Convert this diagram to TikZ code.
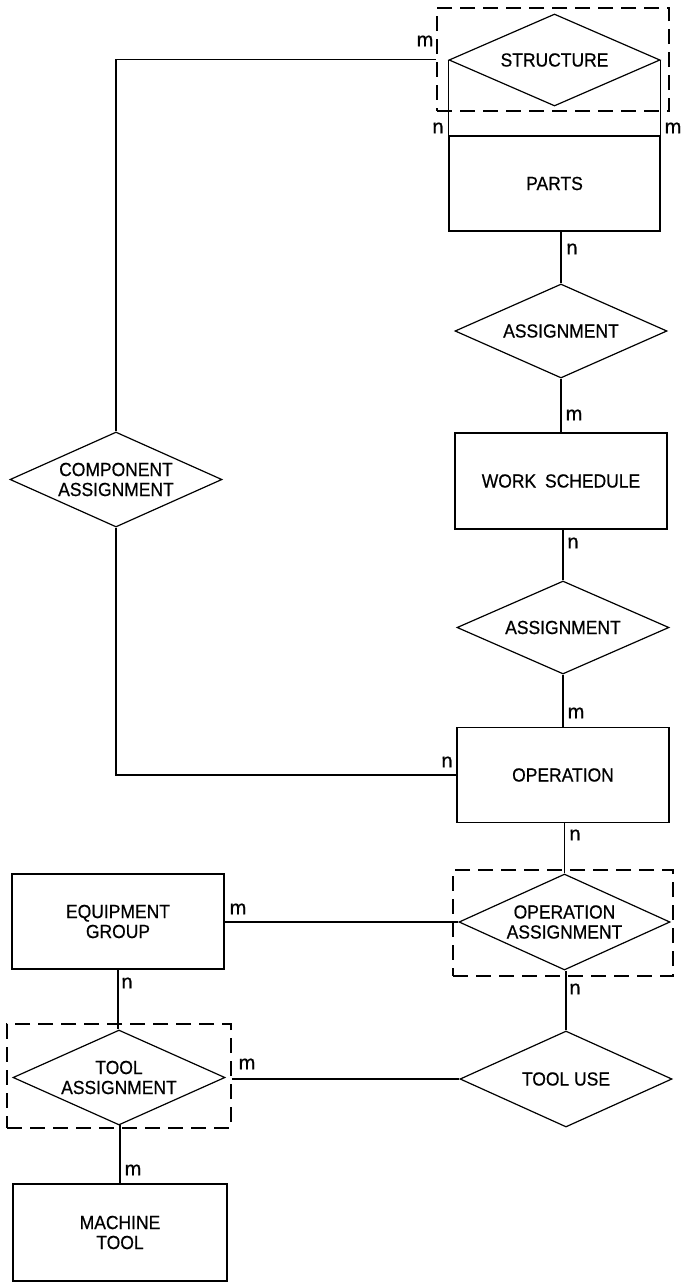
\documentclass[tikz,border=0pt]{standalone}
\usepackage{fontspec}
\setmainfont{Liberation Sans}
\newfontfamily\narrowsans[FakeStretch=0.92,FakeBold=0.6]{Liberation Sans}
\newfontfamily\cardsans[FakeBold=0.8]{Liberation Sans}
\usetikzlibrary{shapes.geometric}
\begin{document}
\begin{tikzpicture}[x=1pt,y=-1pt,
  line width=1.2pt,
  every node/.style={font=\narrowsans\fontsize{19}{20}\selectfont},
  entity/.style={draw,rectangle,inner sep=0pt,align=center},
  relation/.style={draw,diamond,inner sep=0pt},
  dashbox/.style={draw,rectangle,inner sep=0pt,dash pattern=on 15pt off 8pt},
  card/.style={font=\cardsans\fontsize{20}{22}\selectfont,inner sep=0pt}]
\useasboundingbox (0,0) rectangle (682,1282);

% entities
\node[entity,minimum width=211pt,minimum height=95pt] (parts) at (554.5,183.5) {PARTS};
\node[entity,minimum width=212pt,minimum height=96pt] (works) at (561,481) {WORK\hspace{4pt} SCHEDULE};
\node[entity,minimum width=212pt,minimum height=95pt] (operation) at (563,775) {OPERATION};
\node[entity,minimum width=212pt,minimum height=95pt] (equip) at (118,921.5) {EQUIPMENT\\GROUP};
\node[entity,minimum width=214pt,minimum height=97pt] (machine) at (120,1232.5) {MACHINE\\TOOL};

% relationships
\node[relation,minimum width=211pt,minimum height=92pt,label={center:STRUCTURE}] (structure) at (554.5,60) {};
\node[relation,minimum width=212pt,minimum height=94pt,label={center:ASSIGNMENT}] (assign1) at (561,331) {};
\node[relation,minimum width=212pt,minimum height=93pt,label={center:ASSIGNMENT}] (assign2) at (563,627.5) {};
\node[relation,minimum width=212pt,minimum height=95pt,label={[align=center]center:COMPONENT\\ASSIGNMENT}] (component) at (116,479.5) {};
\node[relation,minimum width=211pt,minimum height=96pt,label={[align=center]center:OPERATION\\ASSIGNMENT}] (opassign) at (564.5,922) {};
\node[relation,minimum width=212pt,minimum height=95pt,label={[align=center]center:TOOL\\ASSIGNMENT}] (toolassign) at (119,1077.5) {};
\node[relation,minimum width=212pt,minimum height=96pt,label={center:TOOL USE}] (tooluse) at (566,1079) {};

% dashed aggregation frames
\node[dashbox,minimum width=232pt,minimum height=103pt] (structframe) at (553,59.5) {};
\node[dashbox,minimum width=220pt,minimum height=106pt] (opframe) at (563,923) {};
\node[dashbox,minimum width=224pt,minimum height=104pt] (toolframe) at (119,1076) {};

% connectors
\draw (structure.west) -- (parts.north west);
\draw (structure.east) -- (parts.north east);
\draw (component.north) |- (structframe.west);
\draw (component.south) |- (operation.west);
\draw (assign1.north) -- (assign1.north |- parts.south);
\draw (assign1.south) -- (works.north -| assign1.south);
\draw (assign2.north) -- (assign2.north |- works.south);
\draw (assign2.south) -- (operation.north -| assign2.south);
\draw (opassign.north) -- (opassign.north |- operation.south);
\draw (opassign.west) -- (opassign.west -| equip.east);
\draw (equip.south) -- (equip.south |- toolassign.north);
\draw (tooluse.north) -- (tooluse.north |- opassign.south);
\draw (tooluse.west) -- (tooluse.west -| toolframe.east);
\draw (toolassign.south) -- (toolassign.south -| machine.north) -- (machine.north);

% cardinalities
\node[card] (c1) at (425,41) {m};
\node[card] (c2) at (438,128) {n};
\node[card] (c3) at (673,128) {m};
\node[card] (c4) at (572,249) {n};
\node[card] (c5) at (574,415) {m};
\node[card] (c6) at (573,543) {n};
\node[card] (c7) at (576,713) {m};
\node[card] (c8) at (447,762) {n};
\node[card] (c9) at (575,835) {n};
\node[card] (c10) at (238,909) {m};
\node[card] (c11) at (127,983) {n};
\node[card] (c12) at (575,989) {n};
\node[card] (c13) at (247,1064) {m};
\node[card] (c14) at (133,1170) {m};
\end{tikzpicture}
\end{document}
